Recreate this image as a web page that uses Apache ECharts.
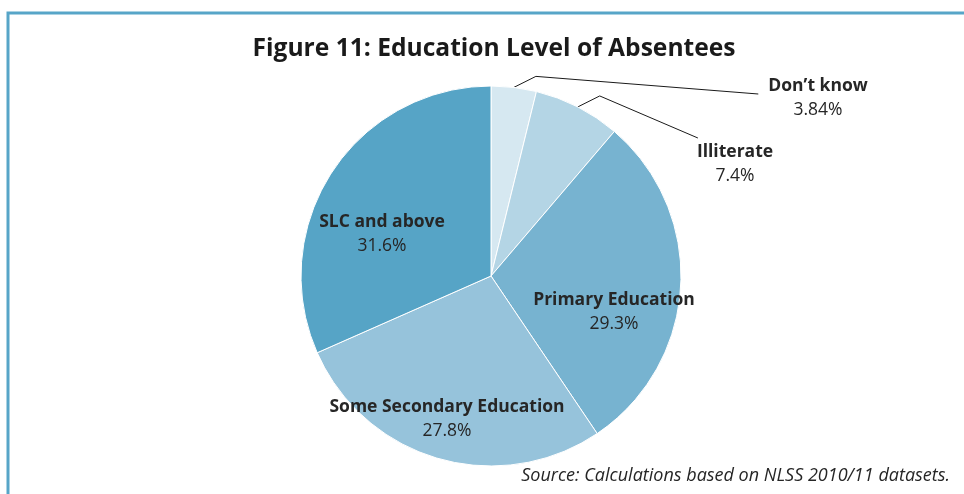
<!DOCTYPE html>
<html>
<head>
<meta charset="utf-8">
<title>Figure 11: Education Level of Absentees</title>
<script src="https://cdn.jsdelivr.net/npm/echarts@6/dist/echarts.min.js"></script>
<style>
  html, body { margin: 0; padding: 0; background: #ffffff; }
  #chart { width: 964px; height: 494px; }
</style>
</head>
<body>
<div id="chart"></div>
<script>
// Education level of absentees (NLSS 2010/11), share in percent
const categories = ['Don\u2019t know', 'Illiterate', 'Primary Education', 'Some Secondary Education', 'SLC and above'];
const shares = [3.84, 7.4, 29.3, 27.8, 31.6];

const sliceColors = ['#d6e8f1', '#b4d5e5', '#77b3d0', '#96c3db', '#56a4c6'];
// Label anchor points (centre of the two-line label), in pixels
const labelCentres = [[818, 98], [735, 164], [614, 312], [447, 419], [382, 234]];
const outsideLabel = [true, true, false, false, false];
// Where each leader line meets its label, relative to the label's top-left corner
const leaderEnds = [[-10, 17], [1, -5], null, null, null];

const FONT = "'Open Sans', 'Noto Sans', sans-serif";
const chart = echarts.init(document.getElementById('chart'), null, { renderer: 'canvas' });

const data = categories.map((name, i) => ({
  name,
  value: shares[i],
  itemStyle: { color: sliceColors[i] },
  label: { position: outsideLabel[i] ? 'outside' : 'inside' },
  labelLine: { show: outsideLabel[i] }
}));

chart.setOption({
  animation: false,
  title: {
    text: 'Figure 11: Education Level of Absentees',
    left: 489,
    top: 31,
    textAlign: 'center',
    textStyle: { fontFamily: FONT, fontWeight: 'bold', fontSize: 24.6, color: '#1a1a1a' }
  },
  graphic: [
    {
      type: 'polyline',
      shape: { points: [[8, 494], [8, 13], [964, 13]] },
      style: { stroke: '#57a5c8', lineWidth: 3, fill: null }
    },
    {
      type: 'text',
      right: 14,
      top: 467,
      style: {
        text: 'Source: Calculations based on NLSS 2010/11 datasets.',
        fontFamily: FONT,
        fontStyle: 'italic',
        fontSize: 18,
        fill: '#262626'
      }
    }
  ],
  series: [{
    type: 'pie',
    center: [491, 276],
    radius: 190,
    startAngle: 90,
    clockwise: true,
    avoidLabelOverlap: false,
    itemStyle: { borderColor: '#ffffff', borderWidth: 1 },
    label: {
      show: true,
      formatter: p => '{n|' + p.name + '}\n{v|' + p.value + '%}',
      rich: {
        n: { fontFamily: FONT, fontWeight: 'bold', fontSize: 17.5, color: '#262626', lineHeight: 24, align: 'center' },
        v: { fontFamily: FONT, fontSize: 17.5, color: '#262626', lineHeight: 24, align: 'center' }
      }
    },
    labelLine: {
      show: true,
      length: 20,
      length2: 20,
      smooth: false,
      lineStyle: { color: '#1a1a1a', width: 1 }
    },
    labelLayout: function (params) {
      const i = params.dataIndex;
      const c = labelCentres[i];
      const out = {
        x: c[0],
        y: c[1],
        align: 'center',
        verticalAlign: 'middle'
      };
      if (outsideLabel[i] && params.labelLinePoints) {
        const start = params.labelLinePoints[0];
        const w = params.labelRect.width;
        const h = params.labelRect.height;
        const off = leaderEnds[i];
        const end = [c[0] - w / 2 + off[0], c[1] - h / 2 + off[1]];
        const elbow = [start[0] + 22, start[1] - 11];
        out.labelLinePoints = [start, elbow, end];
      }
      return out;
    },
    data
  }]
});
</script>
</body>
</html>
